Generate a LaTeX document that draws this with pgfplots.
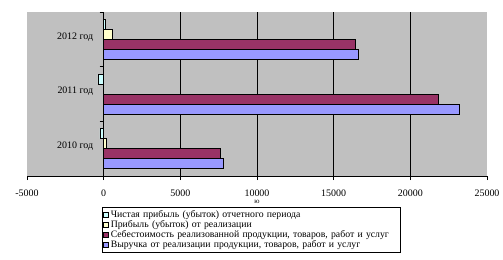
\documentclass[border=0pt]{standalone}
\usepackage{pgfplots}
\pgfplotsset{compat=1.18}
\usepackage{fontspec}
\setmainfont{Liberation Serif}
\definecolor{cRev}{RGB}{153,153,255}
\definecolor{cCost}{RGB}{153,51,102}
\definecolor{cProf}{RGB}{255,255,204}
\definecolor{cNet}{RGB}{204,255,255}
\definecolor{plotbg}{RGB}{192,192,192}
\begin{document}
\begin{tikzpicture}[x=1bp,y=1bp]
\path[use as bounding box] (-27,-83) rectangle (476,176);
\begin{axis}[
  at={(0,0)}, anchor=south west,
  width=460bp, height=164bp, scale only axis,
  xbar=0pt, bar width=10bp,
  xmin=-5000, xmax=25000, ymin=-0.5, ymax=2.5,
  axis x line=bottom, axis y line=center,
  axis line style={-, black, line width=0.8bp},
  hide obscured x ticks=false, hide obscured y ticks=false,
  axis background/.style={fill=plotbg},
  scaled x ticks=false,
  xtick={0,5000,10000,15000,20000},
  xticklabels={0,5000,10000,15000,20000},
  extra x ticks={-5000,25000},
  extra x tick labels={-5000,25000},
  extra x tick style={grid=none},
  xmajorgrids, grid style={black, line width=0.8bp},
  x tick style={black, line width=0.8bp},
  major tick length=4bp,
  tick align=outside,
  ytick={0,1,2},
  yticklabels={2010 год,2011 год,2012 год},
  major y tick style={draw=none},
  minor ytick={-0.5,0.5,1.5,2.5},
  minor y tick style={black, line width=0.8bp},
  minor tick length=4bp,
  ticklabel style={font=\fontsize{10}{12}\selectfont},
  yticklabel style={xshift=-3bp, yshift=2.5bp},
  xticklabel style={yshift=-6.5bp},
  xlabel={ю},
  xlabel style={font=\fontsize{7}{7}\selectfont, at={(0.5,0)}, anchor=north, inner sep=0pt, yshift=-24.5bp},
  reverse legend,
  legend cell align=left,
  legend style={at={(0.163,-0.189)}, anchor=north west, draw=black, fill=white,
    font=\fontsize{9.8}{10}\selectfont, inner sep=1.2bp, row sep=-2.4bp,
    /tikz/every even column/.append style={column sep=0bp, text width=286bp}},
  legend image code/.code={\draw[#1, draw=black] (0bp,-2.5bp) rectangle (5bp,2.5bp);},
]
\addplot[fill=cRev, draw=black] coordinates {(7780,0) (23180,1) (16620,2)};
\addplot[fill=cCost, draw=black] coordinates {(7590,0) (21810,1) (16390,2)};
\addplot[fill=cProf, draw=black] coordinates {(150,0) (0,1) (550,2)};
\addplot[fill=cNet, draw=black] coordinates {(-250,0) (-370,1) (100,2)};
\legend{{Выручка от реализации продукции, товаров, работ и услуг},
        {Себестоимость реализованной продукции, товаров, работ и услуг},
        {Прибыль (убыток) от реализации},
        {Чистая прибыль (убыток) отчетного периода}}
\end{axis}
\end{tikzpicture}
\end{document}
